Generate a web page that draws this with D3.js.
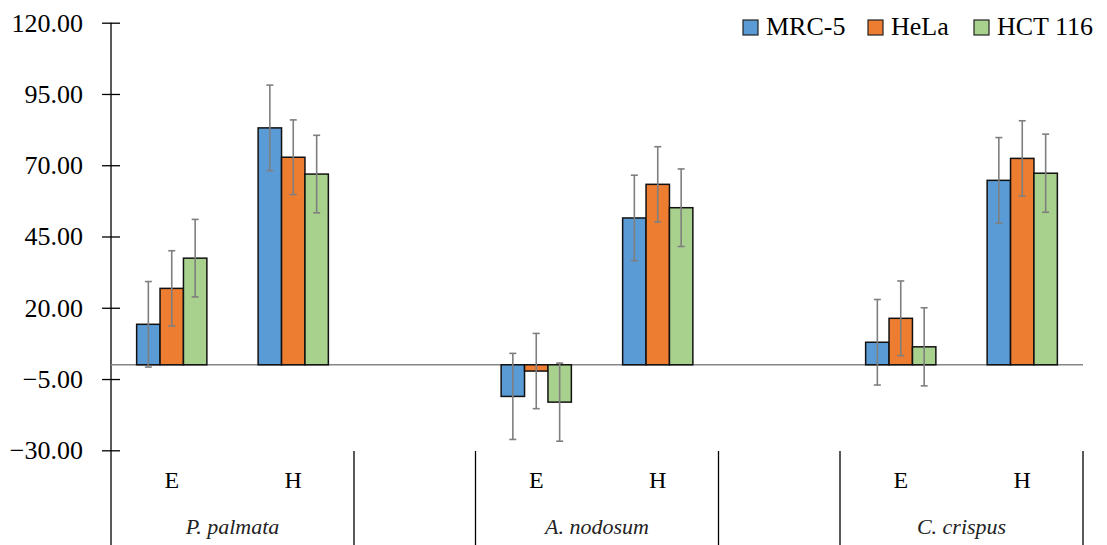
<!DOCTYPE html>
<html>
<head>
<meta charset="utf-8">
<script src="https://cdn.jsdelivr.net/npm/d3@7"></script>
<style>
  html, body { margin: 0; padding: 0; background: #fff; }
  svg { display: block; font-family: "Liberation Serif", "DejaVu Serif", serif; }
</style>
</head>
<body>
<svg id="chart" width="1107" height="545"></svg>
<script>
// species groups and their sub categories (blank groups are spacers)
const groups = ["P. palmata", "", "A. nodosum", "", "C. crispus"];
const subCats = [["E", "H"], [""], ["E", "H"], [""], ["E", "H"]];

const seriesNames = ["MRC-5", "HeLa", "HCT 116"];
const seriesColors = ["#5B9BD5", "#ED7D31", "#A9D18E"];

// values for the E/H points, in order: P. palmata E, H, A. nodosum E, H, C. crispus E, H
const mrc5 = [14.2, 83.1, -11.1, 51.5, 7.9, 64.7];
const hela = [26.8, 72.8, -2.2, 63.3, 16.3, 72.4];
const hct116 = [37.4, 66.9, -13.1, 55.1, 6.3, 67.2];

const mrc5Err = [15.0, 15.0, 15.1, 15.0, 15.0, 15.0];
const helaErr = [13.2, 13.1, 13.2, 13.2, 13.1, 13.2];
const hct116Err = [13.6, 13.6, 13.7, 13.6, 13.7, 13.7];

const yTicks = [-30, -5, 20, 45, 70, 95, 120];

const plotLeft = 111, plotRight = 1083, plotTop = 22.7, plotBottom = 450.3;
const svg = d3.select("#chart");

// flatten groups into slots
const slots = [];
groups.forEach((g, gi) => {
  subCats[gi].forEach((s, si) => slots.push({key: gi + "-" + si, group: g, sub: s, gi: gi}));
});
const dataSlots = slots.filter(s => s.sub !== "");

const x0 = d3.scaleBand()
  .domain(slots.map(s => s.key))
  .range([plotLeft, plotRight])
  .padding(0);

const x1 = d3.scaleBand()
  .domain(seriesNames)
  .range([0, x0.bandwidth()])
  .paddingInner(0)
  .paddingOuter(1.095);

const y = d3.scaleLinear()
  .domain([-30, 120])
  .range([plotBottom, plotTop]);

// Y axis
const yAxis = svg.append("g")
  .attr("transform", "translate(" + plotLeft + ",0)")
  .call(d3.axisLeft(y).tickValues(yTicks).tickSize(9).tickPadding(19).tickFormat(d3.format(".2f")));
yAxis.select(".domain").remove();
yAxis.selectAll(".tick line").attr("x1", -9).attr("x2", 9).attr("stroke", "#000").attr("stroke-width", 1.3);
yAxis.selectAll(".tick text").attr("font-size", 26).attr("fill", "#000")
  .attr("font-family", "Liberation Serif, serif");

svg.append("line")
  .attr("x1", plotLeft).attr("x2", plotLeft)
  .attr("y1", plotTop).attr("y2", 545)
  .attr("stroke", "#000").attr("stroke-width", 1.3);

// zero line
svg.append("line")
  .attr("x1", plotLeft).attr("x2", plotRight)
  .attr("y1", y(0)).attr("y2", y(0))
  .attr("stroke", "#868686").attr("stroke-width", 1.5);

// bars
const allValues = [mrc5, hela, hct116];
const allErrors = [mrc5Err, helaErr, hct116Err];
const barData = [];
dataSlots.forEach((s, i) => {
  seriesNames.forEach((name, k) => {
    barData.push({slot: s.key, series: name, color: seriesColors[k], v: allValues[k][i], e: allErrors[k][i]});
  });
});

svg.selectAll("rect.bar")
  .data(barData)
  .enter()
  .append("rect")
  .attr("class", "bar")
  .attr("x", d => x0(d.slot) + x1(d.series))
  .attr("y", d => y(Math.max(0, d.v)))
  .attr("width", x1.bandwidth())
  .attr("height", d => Math.abs(y(d.v) - y(0)))
  .attr("fill", d => d.color)
  .attr("stroke", "#111")
  .attr("stroke-width", 1.5);

// error bars
const err = svg.selectAll("g.err")
  .data(barData)
  .enter()
  .append("g")
  .attr("class", "err")
  .attr("stroke", "#7F7F7F")
  .attr("stroke-width", 1.6);

const cx = d => x0(d.slot) + x1(d.series) + x1.bandwidth() / 2;
err.append("line")
  .attr("x1", cx).attr("x2", cx)
  .attr("y1", d => y(d.v + d.e)).attr("y2", d => y(d.v - d.e));
err.append("line")
  .attr("x1", d => cx(d) - 3.5).attr("x2", d => cx(d) + 3.5)
  .attr("y1", d => y(d.v + d.e)).attr("y2", d => y(d.v + d.e));
err.append("line")
  .attr("x1", d => cx(d) - 3.5).attr("x2", d => cx(d) + 3.5)
  .attr("y1", d => y(d.v - d.e)).attr("y2", d => y(d.v - d.e));

// category labels
svg.selectAll("text.sub")
  .data(dataSlots)
  .enter()
  .append("text")
  .attr("class", "sub")
  .attr("x", d => x0(d.key) + x0.bandwidth() / 2)
  .attr("y", 488)
  .attr("text-anchor", "middle")
  .attr("font-size", 24)
  .text(d => d.sub);

// group labels and separators
const groupSpans = groups.map((g, gi) => {
  const ks = slots.filter(s => s.gi === gi);
  return {name: g, x0: x0(ks[0].key), x1: x0(ks[ks.length - 1].key) + x0.bandwidth()};
});

svg.selectAll("text.grp")
  .data(groupSpans.filter(d => d.name !== ""))
  .enter()
  .append("text")
  .attr("class", "grp")
  .attr("x", d => (d.x0 + d.x1) / 2)
  .attr("y", 534)
  .attr("text-anchor", "middle")
  .attr("font-size", 22)
  .attr("font-style", "italic")
  .attr("fill", "#222")
  .text(d => d.name);

svg.selectAll("line.sep")
  .data(groupSpans.map(d => d.x1))
  .enter()
  .append("line")
  .attr("class", "sep")
  .attr("x1", d => d).attr("x2", d => d)
  .attr("y1", 451).attr("y2", 545)
  .attr("stroke", "#000").attr("stroke-width", 1.3);

// legend
const legendX = [743, 868, 974];
const legend = svg.selectAll("g.leg")
  .data(seriesNames)
  .enter()
  .append("g")
  .attr("class", "leg")
  .attr("transform", (d, i) => "translate(" + legendX[i] + ",20)");
legend.append("rect")
  .attr("width", 15).attr("height", 15)
  .attr("fill", (d, i) => seriesColors[i])
  .attr("stroke", "#222").attr("stroke-width", 1.2);
legend.append("text")
  .attr("x", 23).attr("y", 15)
  .attr("font-size", 26)
  .text(d => d);
</script>
</body>
</html>
